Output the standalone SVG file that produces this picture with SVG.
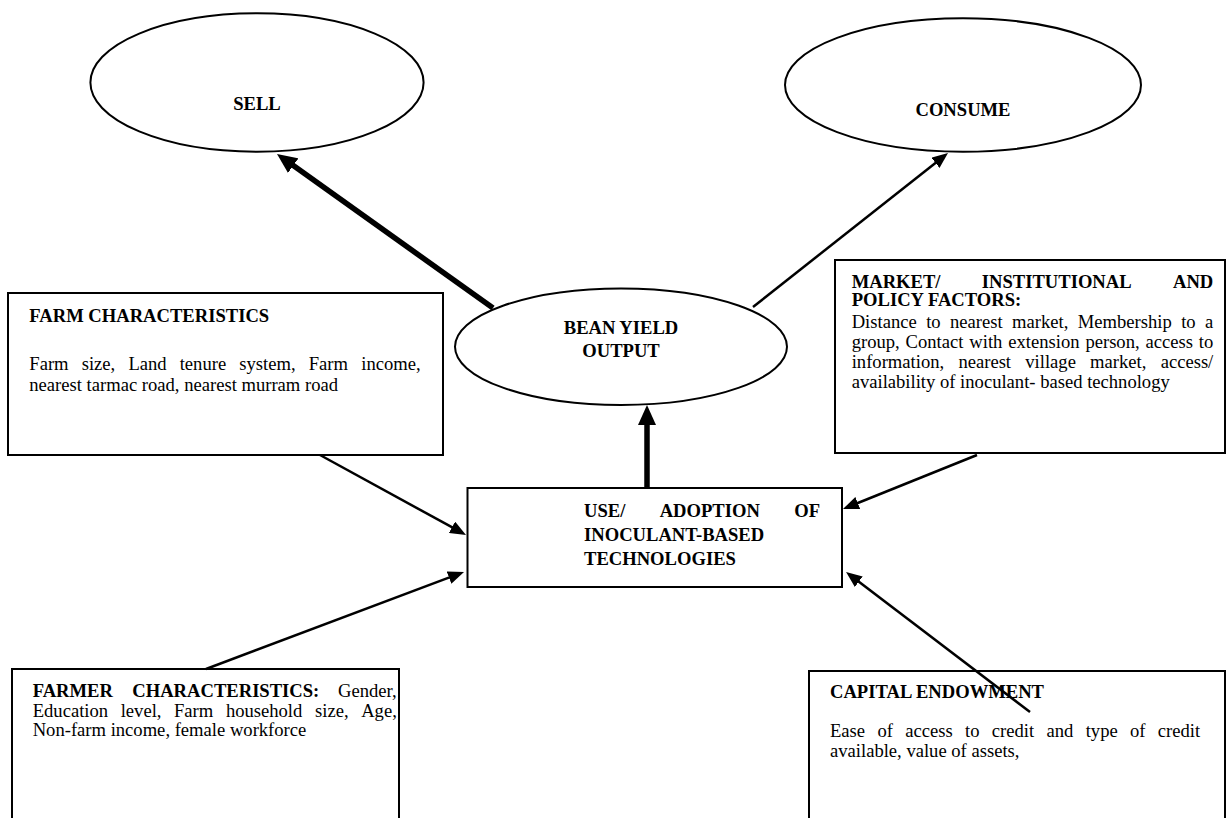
<svg xmlns="http://www.w3.org/2000/svg" width="1227" height="818" viewBox="0 0 1227 818">
<defs>
<style>
text{font-family:"Liberation Serif","Times New Roman",serif;font-size:18.6px;fill:#000}
.b{font-weight:bold}
.box{fill:#fff;stroke:#000;stroke-width:2}
.ell{fill:#fff;stroke:#000;stroke-width:2}
.thin{stroke:#000;stroke-width:2.5;fill:none}
.thick{stroke:#000;stroke-width:5.5;fill:none}
</style>
<marker id="ah" markerUnits="userSpaceOnUse" markerWidth="16" markerHeight="13" refX="4" refY="6.5" orient="auto">
<path d="M0,0 L16,6.5 L0,13 Z" fill="#000"/>
</marker>
<marker id="ahb" markerUnits="userSpaceOnUse" markerWidth="20" markerHeight="18" refX="6" refY="9" orient="auto">
<path d="M0,0 L20,9 L0,18 Z" fill="#000"/>
</marker>
</defs>
<rect width="1227" height="818" fill="#fff"/>

<g id="sell">
<ellipse class="ell" cx="257" cy="82.5" rx="166.6" ry="69.2"/>
<text class="b" x="257" y="110" text-anchor="middle">SELL</text>
</g>

<g id="consume">
<ellipse class="ell" cx="963" cy="85" rx="178" ry="66.7"/>
<text class="b" x="963" y="116" text-anchor="middle">CONSUME</text>
</g>

<g id="bean-yield">
<ellipse class="ell" cx="621" cy="346.7" rx="166" ry="58.3"/>
<text class="b" x="621" y="334" text-anchor="middle">BEAN YIELD</text>
<text class="b" x="621" y="357.3" text-anchor="middle">OUTPUT</text>
</g>

<g id="farm-characteristics">
<rect class="box" x="8" y="293" width="435" height="162"/>
<text class="b" x="29.3" y="322">FARM CHARACTERISTICS</text>
<text y="370"><tspan x="29.3">Farm</tspan><tspan x="81.7">size,</tspan><tspan x="128.4">Land</tspan><tspan x="179.7">tenure</tspan><tspan x="239.3">system,</tspan><tspan x="308.7">Farm</tspan><tspan x="420.7" text-anchor="end">income,</tspan></text>
<text x="29.3" y="391">nearest tarmac road, nearest murram road</text>
</g>

<g id="market-factors">
<rect class="box" x="835" y="260" width="390" height="193"/>
<text class="b" y="288"><tspan x="851.7">MARKET/</tspan><tspan x="981.8">INSTITUTIONAL</tspan><tspan x="1213.3" text-anchor="end">AND</tspan></text>
<text class="b" x="851.7" y="306">POLICY FACTORS:</text>
<text y="328"><tspan x="851.7">Distance</tspan><tspan x="926.2">to</tspan><tspan x="950">nearest</tspan><tspan x="1012.1">market,</tspan><tspan x="1077.8">Membership</tspan><tspan x="1181.2">to</tspan><tspan x="1213.3" text-anchor="end">a</tspan></text>
<text y="348"><tspan x="851.7">group,</tspan><tspan x="905.6">Contact</tspan><tspan x="969.3">with</tspan><tspan x="1008.3">extension</tspan><tspan x="1085.4">person,</tspan><tspan x="1145.5">access</tspan><tspan x="1213.3" text-anchor="end">to</tspan></text>
<text y="368"><tspan x="851.7">information,</tspan><tspan x="958.4">nearest</tspan><tspan x="1025.3">village</tspan><tspan x="1090.1">market,</tspan><tspan x="1213.3" text-anchor="end">access/</tspan></text>
<text x="851.7" y="388">availability of inoculant- based technology</text>
</g>

<g id="use-adoption">
<rect class="box" x="467.5" y="488" width="374.5" height="99"/>
<text class="b" y="516.7"><tspan x="584">USE/</tspan><tspan x="659.7">ADOPTION</tspan><tspan x="820" text-anchor="end">OF</tspan></text>
<text class="b" x="584" y="540.7">INOCULANT-BASED</text>
<text class="b" x="584" y="565">TECHNOLOGIES</text>
</g>

<g id="farmer-characteristics">
<rect class="box" x="12" y="669" width="387" height="170"/>
<text y="697"><tspan class="b" x="32.7">FARMER</tspan><tspan class="b" x="132.3">CHARACTERISTICS:</tspan><tspan x="396.7" text-anchor="end">Gender,</tspan></text>
<text y="716.5"><tspan x="32.7">Education</tspan><tspan x="120.7">level,</tspan><tspan x="174">Farm</tspan><tspan x="225.9">household</tspan><tspan x="315">size,</tspan><tspan x="396.8" text-anchor="end">Age,</tspan></text>
<text x="32.7" y="736">Non-farm income, female workforce</text>
</g>

<g id="capital-endowment">
<rect class="box" x="809" y="671" width="416" height="170"/>
<text class="b" x="830" y="698">CAPITAL ENDOWMENT</text>
<text y="737"><tspan x="830">Ease</tspan><tspan x="877.4">of</tspan><tspan x="905.2">access</tspan><tspan x="965">to</tspan><tspan x="991.8">credit</tspan><tspan x="1046.5">and</tspan><tspan x="1085.7">type</tspan><tspan x="1130">of</tspan><tspan x="1200.2" text-anchor="end">credit</tspan></text>
<text x="830" y="757">available, value of assets,</text>
</g>

<g id="connectors">
<line class="thick" x1="493" y1="308" x2="288.4" y2="162.1" marker-end="url(#ahb)"/>
<line class="thin" x1="753" y1="307" x2="938.6" y2="160.4" marker-end="url(#ah)"/>
<line class="thick" x1="647" y1="488" x2="647" y2="419" stroke-width="6" marker-end="url(#ahb)"/>
<line class="thin" x1="320" y1="455" x2="455.5" y2="529.2" marker-end="url(#ah)"/>
<line class="thin" x1="206" y1="669" x2="452.8" y2="576.2" marker-end="url(#ah)"/>
<line class="thin" x1="977" y1="455" x2="854.1" y2="504.5" marker-end="url(#ah)"/>
<line class="thin" x1="1030" y1="712" x2="855.6" y2="579.3" marker-end="url(#ah)"/>
</g>
</svg>
